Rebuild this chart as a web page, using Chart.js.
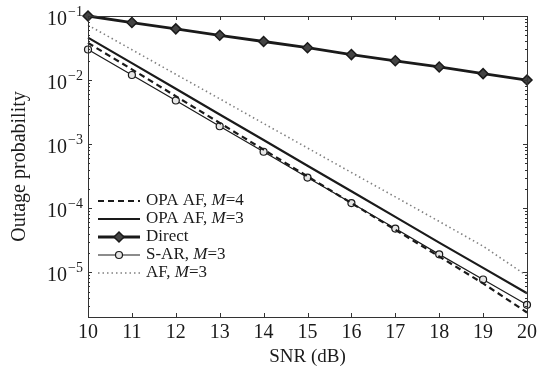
<!DOCTYPE html>
<html>
<head>
<meta charset="utf-8">
<script src="https://cdn.jsdelivr.net/npm/chart.js@4.4.1/dist/chart.umd.min.js"></script>
<style>
html,body{margin:0;padding:0;background:#fff;}
#wrap{width:541px;height:369px;position:relative;}
</style>
</head>
<body>
<div id="wrap"><canvas id="c" width="541" height="369"></canvas></div>
<script>
// ---- data ----
const snr = [10, 11, 12, 13, 14, 15, 16, 17, 18, 19, 20];
const opaM4 = [0.038, 0.0147, 0.0056, 0.00214, 0.00082, 0.000314, 0.00012, 0.000046, 0.0000176, 0.0000067, 0.00000235];
const opaM3 = [0.046, 0.0184, 0.0073, 0.0029, 0.00116, 0.00046, 0.000184, 0.000073, 0.000029, 0.0000117, 0.0000047];
const direct = [0.1, 0.079, 0.063, 0.05, 0.04, 0.032, 0.025, 0.02, 0.016, 0.0126, 0.01];
const sar = [0.030, 0.012, 0.0048, 0.0019, 0.00076, 0.0003, 0.00012, 0.000048, 0.000019, 0.0000077, 0.0000031];
const afM3 = [0.072, 0.0298, 0.0123, 0.0051, 0.0021, 0.00087, 0.00036, 0.00015, 0.000062, 0.0000255, 0.0000088];
const xTicks = [10, 11, 12, 13, 14, 15, 16, 17, 18, 19, 20];
const yDecades = [-5, -4, -3, -2, -1];
const seriesNames = ['OPA AF, M=4', 'OPA AF, M=3', 'Direct', 'S-AR, M=3', 'AF, M=3'];
const xTitle = 'SNR (dB)';
const yTitle = 'Outage probability';

const FONT = "'Liberation Serif', 'DejaVu Serif', serif";
const INK = '#1a1a1a';

function pts(arr){ return arr.map((v,i)=>({x:snr[i], y:v})); }

const datasets = [
  {label: seriesNames[0], data: pts(opaM4), borderColor: INK, borderWidth: 2.2, borderDash:[6,4], pointRadius:0, clip:false},
  {label: seriesNames[1], data: pts(opaM3), borderColor: INK, borderWidth: 2.2, pointRadius:0, clip:false},
  {label: seriesNames[2], data: pts(direct), borderColor: INK, borderWidth: 2.8, pointStyle:'rectRot', pointRadius:5, pointBackgroundColor:'#444', pointBorderColor: INK, pointBorderWidth:1.5, clip:false},
  {label: seriesNames[3], data: pts(sar), borderColor: INK, borderWidth: 1.2, pointStyle:'circle', pointRadius:3.5, pointBackgroundColor:'#e6e6e6', pointBorderColor: INK, pointBorderWidth:1.2, clip:false},
  {label: seriesNames[4], data: pts(afM3), borderColor: '#808080', borderWidth: 1.6, borderDash:[1.5,3], pointRadius:0, clip:false}
];

const framePlugin = {
  id: 'frame',
  afterDraw(chart){
    const ctx = chart.ctx, a = chart.chartArea;
    const xs = chart.scales.x, ys = chart.scales.y;
    ctx.save();
    ctx.strokeStyle = '#333';
    ctx.lineWidth = 1;
    ctx.strokeRect(Math.round(a.left)+0.5, Math.round(a.top)+0.5, Math.round(a.right-a.left), Math.round(a.bottom-a.top));
    // x ticks (inward, bottom and top)
    xTicks.forEach(v=>{
      const px = Math.round(xs.getPixelForValue(v))+0.5;
      ctx.beginPath();
      ctx.moveTo(px, a.bottom); ctx.lineTo(px, a.bottom-4);
      ctx.moveTo(px, a.top); ctx.lineTo(px, a.top+4);
      ctx.stroke();
    });
    // y ticks: major & minor
    for (let e=-6; e<=-1; e++){
      for (let m=1; m<=9; m++){
        const v = m*Math.pow(10,e);
        if (v < ys.min*0.999 || v > ys.max*1.001) continue;
        const py = Math.round(ys.getPixelForValue(v))+0.5;
        const len = (m===1)?4:2;
        ctx.beginPath();
        ctx.moveTo(a.left, py); ctx.lineTo(a.left+len, py);
        ctx.moveTo(a.right, py); ctx.lineTo(a.right-len, py);
        ctx.stroke();
      }
    }
    // y tick labels with superscripts
    ctx.fillStyle = INK;
    yDecades.forEach(e=>{
      const py = ys.getPixelForValue(Math.pow(10,e));
      const sup = '\u2212' + String(-e);
      ctx.font = '14px ' + FONT;
      const sw = ctx.measureText(sup).width;
      const xEnd = a.left - 5;
      ctx.textAlign = 'left';
      ctx.textBaseline = 'middle';
      ctx.fillText(sup, xEnd - sw, py - 4);
      ctx.font = '20px ' + FONT;
      ctx.textAlign = 'right';
      ctx.fillText('10', xEnd - sw - 1, py + 4);
    });
    // legend
    const lx0 = 98, lx1 = 140, tx = 146;
    const rows = [201, 219, 237, 255, 273];
    datasets.forEach((d,i)=>{
      const y = rows[i];
      ctx.save();
      ctx.strokeStyle = d.borderColor;
      ctx.lineWidth = d.borderWidth;
      ctx.setLineDash(d.borderDash || []);
      ctx.beginPath(); ctx.moveTo(lx0, y); ctx.lineTo(lx1, y); ctx.stroke();
      ctx.restore();
      if (d.pointRadius){
        const mx = (lx0+lx1)/2;
        ctx.save();
        ctx.fillStyle = d.pointBackgroundColor;
        ctx.strokeStyle = d.pointBorderColor;
        ctx.lineWidth = d.pointBorderWidth;
        Chart.helpers.drawPoint(ctx, {pointStyle: d.pointStyle, radius: d.pointRadius, borderWidth: d.pointBorderWidth}, mx, y);
        ctx.restore();
      }
      // text with italic M
      ctx.fillStyle = INK;
      ctx.textAlign = 'left';
      ctx.textBaseline = 'middle';
      const name = d.label;
      const idx = name.indexOf('M=');
      let x = tx;
      const F = '17px ' + FONT, FI = 'italic 17px ' + FONT;
      if (idx >= 0){
        const pre = name.slice(0, idx);
        const post = name.slice(idx+1);
        ctx.font = F;
        ctx.fillText(pre, x, y); x += ctx.measureText(pre).width;
        ctx.font = FI;
        ctx.fillText('M', x, y); x += ctx.measureText('M').width;
        ctx.font = F;
        ctx.fillText(post, x, y);
      } else {
        ctx.font = F;
        ctx.fillText(name, x, y);
      }
    });
    ctx.restore();
  }
};

new Chart(document.getElementById('c'), {
  type: 'line',
  data: { datasets },
  plugins: [framePlugin],
  options: {
    responsive: false,
    animation: false,
    layout: { padding: { top: 16, right: 12, left: 0, bottom: 0 } },
    plugins: { legend: { display: false }, tooltip: { enabled: false } },
    scales: {
      x: {
        type: 'linear', min: 10, max: 20,
        afterBuildTicks: s => { s.ticks = xTicks.map(v=>({value:v})); },
        afterFit: s => { s.height = 52; },
        grid: { display: false, drawTicks: false },
        border: { display: false },
        ticks: { color: INK, font: { family: FONT, size: 20 }, padding: 4, maxRotation: 0, autoSkip: false },
        title: { display: true, text: xTitle, color: INK, font: { family: FONT, size: 19 }, padding: { top: 0, bottom: 1 } }
      },
      y: {
        type: 'logarithmic', min: 2e-6, max: 0.1,
        afterFit: s => { s.width = 88; },
        grid: { display: false, drawTicks: false },
        border: { display: false },
        ticks: { display: false },
        title: { display: true, text: yTitle, color: INK, font: { family: FONT, size: 20 }, padding: { top: 8, bottom: 0 } }
      }
    }
  }
});
</script>
</body>
</html>
